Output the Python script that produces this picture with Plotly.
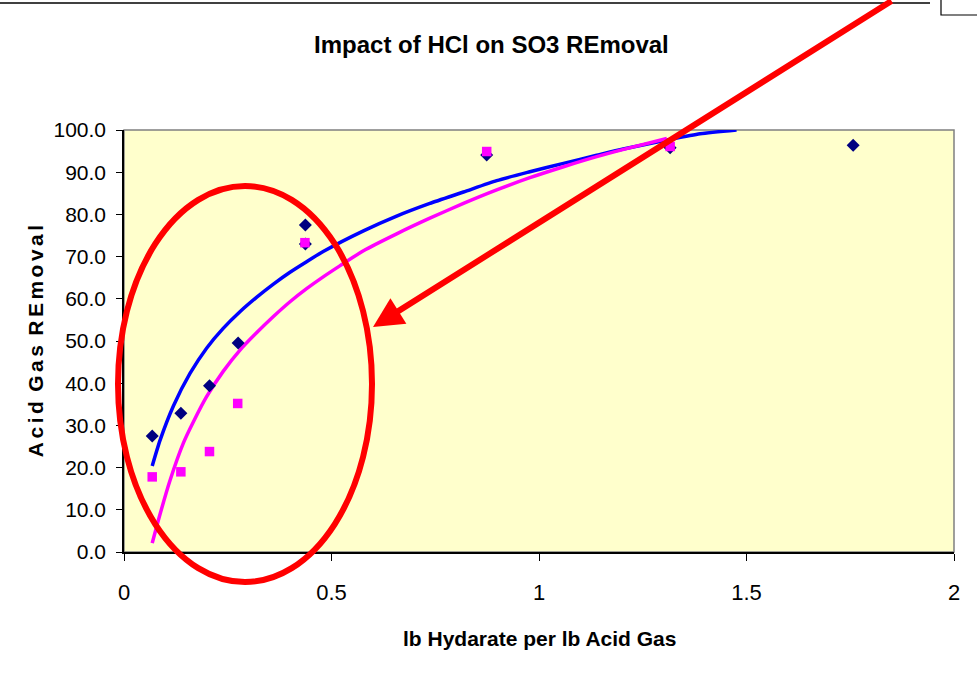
import plotly.graph_objects as go

# measured points
hx = [0.068, 0.137, 0.206, 0.275, 0.437, 0.437, 0.874, 1.316, 1.757]
hy = [27.5, 32.9, 39.4, 49.5, 77.5, 73.0, 94.1, 95.8, 96.4]

px_ = [0.068, 0.137, 0.206, 0.274, 0.436, 0.874, 1.316]
py_ = [17.8, 19.0, 23.8, 35.2, 73.3, 94.9, 96.1]

# trend lines
bx = [0.068, 0.087, 0.119, 0.159, 0.199, 0.239, 0.28, 0.32, 0.36, 0.40, 0.44, 0.48,
      0.577, 0.657, 0.737, 0.818, 0.898, 0.978, 1.059, 1.139, 1.203, 1.308, 1.388, 1.476]
by = [20.4, 26.5, 34.6, 42.3, 48.3, 53.0, 57.0, 60.4, 63.5, 66.3, 68.8, 71.2,
      76.1, 79.6, 82.6, 85.3, 88.0, 90.1, 92.1, 94.0, 95.5, 97.6, 99.1, 100.0]

mx = [0.068, 0.087, 0.111, 0.143, 0.167, 0.199, 0.239, 0.28, 0.32, 0.36, 0.40, 0.44,
      0.48, 0.52, 0.577, 0.657, 0.737, 0.818, 0.898, 0.978, 1.059, 1.139, 1.211, 1.308]
my = [2.1, 9.0, 17.0, 25.8, 30.8, 36.8, 42.8, 47.9, 52.0, 55.8, 59.3, 62.4,
      65.2, 67.8, 71.4, 75.4, 79.1, 82.6, 85.8, 88.7, 91.3, 93.7, 95.6, 98.0]

FONT = "Liberation Sans, Arial"
HS = "\u200a\u200a"  # hair spaces to spread the y title letters
ytitle = (" " + HS).join(HS.join(w) for w in ["Acid", "Gas", "REmoval"])

fig = go.Figure()
fig.add_trace(go.Scatter(x=bx, y=by, mode="lines",
                         line=dict(color="#0000FF", width=3.5, shape="spline", smoothing=0.6)))
fig.add_trace(go.Scatter(x=mx, y=my, mode="lines",
                         line=dict(color="#FF00FF", width=3.5, shape="spline", smoothing=0.6)))
fig.add_trace(go.Scatter(x=hx, y=hy, mode="markers",
                         marker=dict(symbol="diamond", size=10, color="#000080")))
fig.add_trace(go.Scatter(x=px_, y=py_, mode="markers",
                         marker=dict(symbol="square", size=9.5, color="#FF00FF")))

fig.update_layout(
    width=977, height=683,
    margin=dict(l=124, r=23, t=130, b=131),
    paper_bgcolor="white", plot_bgcolor="#FFFFCC",
    showlegend=False,
    font=dict(family=FONT, color="black"),
    title=dict(text="<b>Impact of HCl on SO3 REmoval</b>", x=0.503, xanchor="center",
               y=0.934, yanchor="middle", font=dict(size=24, family=FONT)),
    xaxis=dict(range=[0, 2], dtick=0.5, showgrid=False, zeroline=False,
               showline=True, linecolor="black", linewidth=1.5, ticks="outside",
               ticklen=7, tickcolor="black", tickfont=dict(size=22),
               ticklabelstandoff=13),
    yaxis=dict(range=[0, 100], dtick=10, tickformat=".1f", showgrid=False, zeroline=False,
               showline=True, linecolor="black", linewidth=1.5, ticks="outside",
               ticklen=6, tickcolor="black", tickfont=dict(size=21),
               ticklabelstandoff=6),
    annotations=[
        dict(text="<b>lb Hydarate per lb Acid Gas</b>", xref="paper", yref="paper",
             x=0.5, y=-0.204, showarrow=False, font=dict(size=21, family=FONT),
             xanchor="center", yanchor="middle"),
        dict(text="<b>" + ytitle + "</b>", xref="paper", yref="paper",
             x=-0.107, y=0.5, textangle=-90, showarrow=False,
             font=dict(size=21, family=FONT),
             xanchor="center", yanchor="middle"),
        dict(x=(373 - 124) / 830, y=(552 - 327) / 422, xref="paper", yref="paper",
             ax=520, ay=-332, axref="pixel", ayref="pixel", text="", showarrow=True,
             arrowhead=2, arrowsize=1, arrowwidth=6, arrowcolor="#FF0000"),
    ],
    shapes=[
        dict(type="rect", xref="paper", yref="paper", x0=0, x1=1, y0=0, y1=1,
             line=dict(color="#808080", width=1.5), layer="below"),
        dict(type="circle", xref="paper", yref="paper",
             x0=(118 - 124) / 830, x1=(372 - 124) / 830,
             y0=(552 - 582) / 422, y1=(552 - 186) / 422,
             line=dict(color="#FF0000", width=6)),
        dict(type="line", xref="paper", yref="paper",
             x0=-124 / 830, x1=(930 - 124) / 830,
             y0=(552 - 3) / 422, y1=(552 - 3) / 422,
             line=dict(color="black", width=1.5)),
        dict(type="rect", xref="paper", yref="paper",
             x0=(941 - 124) / 830, x1=(985 - 124) / 830,
             y0=(552 - 15) / 422, y1=(552 + 10) / 422,
             line=dict(color="black", width=1.2)),
    ],
)

fig.write_html("out.html", config={"displayModeBar": False},
               post_script="document.body.style.margin='0px';")
